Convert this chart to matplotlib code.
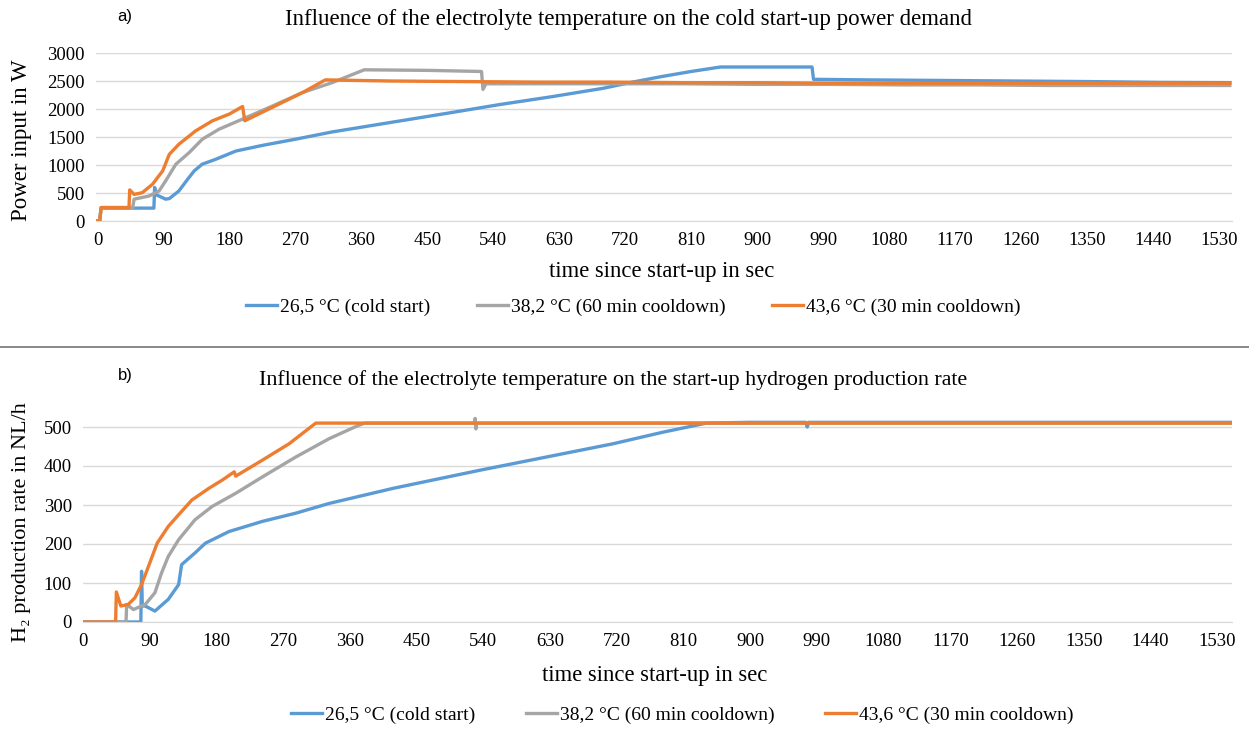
import matplotlib
matplotlib.use("Agg")
import matplotlib.pyplot as plt
from matplotlib.lines import Line2D

# ---- a) power input in W ----
blue_t_a = [0, 3, 5, 77, 78, 80, 93, 98, 111, 123, 132, 143, 161, 189, 225, 270, 320, 400,
            480, 549, 620, 690, 730, 770, 810, 850, 975, 977, 1050, 1150, 1250, 1350, 1450, 1545]
blue_p_a = [0, 0, 230, 230, 600, 470, 390, 400, 535, 745, 895, 1015, 1100, 1250, 1350, 1460, 1590, 1760,
            1930, 2080, 2220, 2370, 2480, 2580, 2670, 2750, 2750, 2530, 2520, 2510, 2500, 2490, 2475, 2470]

gray_t_a = [0, 3, 5, 48, 50, 70, 84, 93, 107, 125, 143, 166, 198, 234, 280, 320, 364, 450,
            524, 526, 530, 600, 700, 800, 900, 1000, 1100, 1200, 1300, 1400, 1545]
gray_p_a = [0, 0, 240, 240, 390, 445, 535, 715, 1015, 1220, 1460, 1640, 1820, 2025, 2295, 2470, 2700, 2690,
            2670, 2350, 2450, 2450, 2450, 2450, 2440, 2440, 2430, 2430, 2420, 2420, 2420]

orange_t_a = [0, 3, 5, 43, 44, 50, 61, 75, 89, 98, 111, 134, 157, 180, 198, 201, 234, 280, 311,
              400, 500, 600, 700, 800, 900, 1000, 1100, 1200, 1300, 1400, 1545]
orange_p_a = [0, 0, 240, 240, 555, 475, 505, 655, 895, 1190, 1370, 1610, 1790, 1910, 2045, 1790, 2000, 2295, 2520,
              2500, 2490, 2480, 2480, 2470, 2470, 2460, 2460, 2460, 2460, 2460, 2460]

# ---- b) hydrogen production rate in NL/h ----
blue_t_b = [0, 78, 79, 80, 84, 97, 115, 129, 133, 151, 165, 197, 242, 287, 332, 419, 535, 625,
            715, 783, 841, 900, 975, 977, 979, 1100, 1300, 1550]
blue_h_b = [0, 0, 130, 41, 41, 28, 58, 96, 147, 177, 202, 232, 258, 279, 304, 343, 389, 423,
            457, 487, 510, 512, 512, 500, 512, 512, 512, 512]

gray_t_b = [0, 58, 59, 68, 84, 97, 106, 115, 129, 151, 174, 206, 242, 287, 332, 369, 380,
            528, 529, 530, 531, 700, 1000, 1550]
gray_h_b = [0, 0, 45, 32, 45, 75, 126, 168, 211, 262, 296, 330, 372, 423, 470, 502, 510,
            510, 522, 495, 510, 510, 510, 510]

orange_t_b = [0, 44, 45, 51, 61, 70, 79, 90, 100, 115, 129, 147, 170, 188, 204, 206, 242, 278, 314, 1550]
orange_h_b = [0, 0, 77, 41, 45, 62, 96, 151, 202, 245, 275, 313, 343, 364, 385, 374, 415, 457, 510, 510]

labels = ["26,5 °C (cold start)", "38,2 °C (60 min cooldown)", "43,6 °C (30 min cooldown)"]
colors = ["#5B9BD5", "#A5A5A5", "#ED7D31"]
xticks = list(range(0, 1531, 90))

plt.rcParams["font.family"] = ["Liberation Serif", "DejaVu Serif"]

W, H = 1249, 729
fig = plt.figure(figsize=(W / 100, H / 100), dpi=100)


def px(x, y):
    return x / W, 1 - y / H


def style(ax, yticks):
    for s in ["left", "right", "top"]:
        ax.spines[s].set_visible(False)
    ax.spines["bottom"].set_color("#D9D9D9")
    ax.set_xticks(xticks)
    ax.set_yticks(yticks)
    ax.tick_params(length=0, labelsize=13.5, pad=8)
    ax.grid(axis="y", color="#D9D9D9", lw=1)
    ax.set_axisbelow(True)


# top panel
ax1 = fig.add_axes([96 / W, 1 - 221 / H, 1136 / W, 168 / H])
ax1.plot(blue_t_a, blue_p_a, color=colors[0], lw=2.4)
ax1.plot(gray_t_a, gray_p_a, color=colors[1], lw=2.4)
ax1.plot(orange_t_a, orange_p_a, color=colors[2], lw=2.4)
ax1.set_xlim(-2, 1548)
ax1.set_ylim(0, 3000)
style(ax1, list(range(0, 3001, 500)))

# bottom panel
ax2 = fig.add_axes([83 / W, 1 - 622 / H, 1149 / W, 210.6 / H])
ax2.plot(blue_t_b, blue_h_b, color=colors[0], lw=2.4)
ax2.plot(gray_t_b, gray_h_b, color=colors[1], lw=2.4)
ax2.plot(orange_t_b, orange_h_b, color=colors[2], lw=2.4)
ax2.set_xlim(0, 1550)
ax2.set_ylim(0, 540)
style(ax2, list(range(0, 501, 100)))

# texts
fig.text(*px(125, 17), "a)", family="Liberation Sans", fontsize=12, ha="center", va="center")
fig.text(*px(628, 20), "Influence of the electrolyte temperature on the cold start-up power demand",
         fontsize=16.5, ha="center", va="center")
fig.text(*px(22, 140), "Power input in W", fontsize=16.5, rotation=90, ha="center", va="center")
fig.text(*px(662, 272), "time since start-up in sec", fontsize=16.3, ha="center", va="center")

fig.text(*px(125, 376), "b)", family="Liberation Sans", fontsize=12, ha="center", va="center")
fig.text(*px(613, 380), "Influence of the electrolyte temperature on the start-up hydrogen production rate",
         fontsize=15.8, ha="center", va="center")
fig.text(*px(22, 522), "H₂ production rate in NL/h", fontsize=16, rotation=90, ha="center", va="center")
fig.text(*px(655, 675), "time since start-up in sec", fontsize=16.3, ha="center", va="center")

# separator
fig.add_artist(Line2D([0, 1], [1 - 347 / H] * 2, transform=fig.transFigure, color="#7F7F7F", lw=1.3))

handles = [Line2D([], [], color=c, lw=2.4) for c in colors]
fig.legend(handles, labels, loc="center", bbox_to_anchor=px(633, 307), ncol=3, frameon=False,
           fontsize=14, handlelength=1.6, handletextpad=0.15, columnspacing=2.4)
fig.legend(handles, labels, loc="center", bbox_to_anchor=px(682, 715), ncol=3, frameon=False,
           fontsize=14, handlelength=1.6, handletextpad=0.15, columnspacing=2.6)

fig.savefig("out.png", dpi=100)
